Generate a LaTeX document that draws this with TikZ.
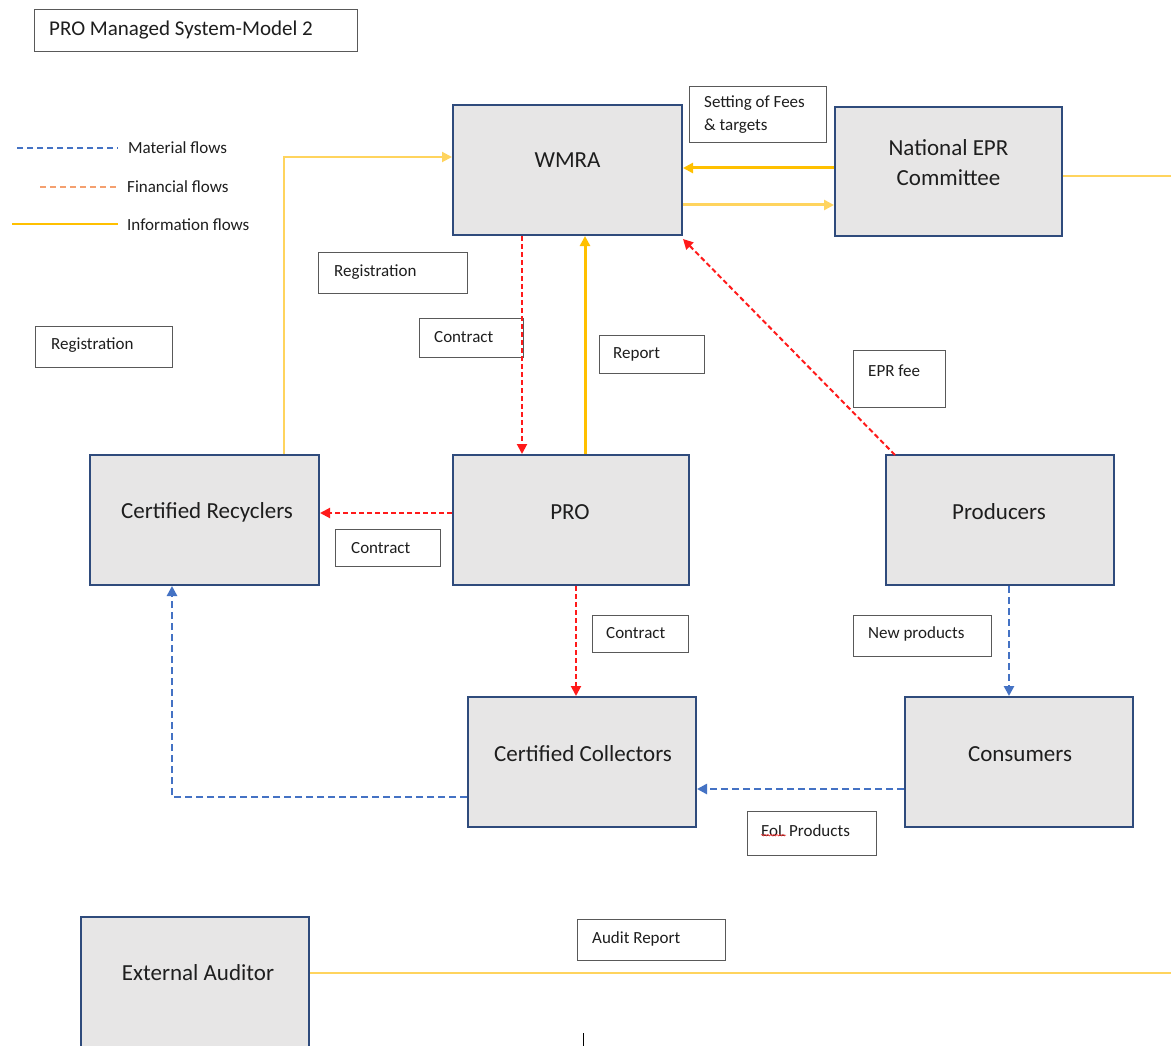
\documentclass[tikz,border=0pt]{standalone}
\usepackage{fontspec}
\setmainfont{Carlito}
\usetikzlibrary{arrows.meta,decorations.pathmorphing}
\definecolor{boxgray}{HTML}{E7E6E6}
\definecolor{boxblue}{HTML}{2F4B7C}
\definecolor{gold}{HTML}{FFC000}
\definecolor{lgold}{HTML}{FFD45E}
\definecolor{matblue}{HTML}{4472C4}
\definecolor{finred}{HTML}{FF1A1A}
\definecolor{legorange}{HTML}{F4A070}
\definecolor{txt}{HTML}{1E1E1E}
\begin{document}
\begin{tikzpicture}[x=1pt,y=-1pt,
  box/.style={draw=boxblue, line width=2pt, fill=boxgray, inner sep=0pt},
  lbl/.style={draw=black!65, line width=0.8pt, fill=white, inner sep=0pt},
  bigtxt/.style={font=\fontsize{23}{30}\selectfont, text=txt, align=center, inner sep=0pt},
  smalltxt/.style={font=\fontsize{17}{23}\selectfont, text=txt, anchor=west, align=left, inner sep=0pt},
  tip/.style={-{Triangle[length=10pt,width=10pt]}},
  info/.style={draw=gold, line width=3pt, tip},
  infolight/.style={draw=lgold, line width=2pt},
  fin/.style={draw=finred, line width=2pt, dash pattern=on 5pt off 3pt, tip},
  mat/.style={draw=matblue, line width=2.5pt, dash pattern=on 7pt off 4pt, tip}
]
\clip (0,0) rectangle (1171,1046);
\fill[white] (0,0) rectangle (1171,1046);

% title
\node[lbl, minimum width=323, minimum height=42] (titlebox) at (195.5,30) {};
\node[smalltxt, font=\fontsize{21}{24}\selectfont] (title) at (49,30) {PRO Managed System-Model 2};

% legend
\coordinate (lm1) at (17,148); \coordinate (lm2) at (118,148);
\coordinate (lf1) at (40,187); \coordinate (lf2) at (116,187);
\coordinate (li1) at (12,224); \coordinate (li2) at (118,224);
\draw[draw=matblue, line width=1.2pt, dash pattern=on 6pt off 4pt] (lm1) -- (lm2);
\draw[draw=legorange, line width=1.2pt, dash pattern=on 6pt off 4pt] (lf1) -- (lf2);
\draw[draw=gold, line width=2.5pt] (li1) -- (li2);
\node[smalltxt] (legm) at (128,148) {Material flows};
\node[smalltxt] (legf) at (127,187) {Financial flows};
\node[smalltxt] (legi) at (127,225) {Information flows};

% main boxes
\node[box, minimum width=229, minimum height=130] (wmra) at (567.5,170) {};
\node[bigtxt] (wmra-t) at (567.5,160) {WMRA};
\node[box, minimum width=227, minimum height=129] (epr) at (948.5,171.5) {};
\node[bigtxt] (epr-t) at (948.5,163) {National EPR\\Committee};
\node[box, minimum width=229, minimum height=130] (rec) at (204.5,520) {};
\node[bigtxt] (rec-t) at (207,512) {Certified Recyclers};
\node[box, minimum width=236, minimum height=130] (pro) at (571,520) {};
\node[bigtxt] (pro-t) at (570,512) {PRO};
\node[box, minimum width=228, minimum height=130] (prod) at (1000,520) {};
\node[bigtxt] (prod-t) at (999,512) {Producers};
\node[box, minimum width=228, minimum height=130] (coll) at (582,762) {};
\node[bigtxt] (coll-t) at (583,754) {Certified Collectors};
\node[box, minimum width=228, minimum height=130] (cons) at (1019,762) {};
\node[bigtxt] (cons-t) at (1020,754) {Consumers};
\node[box, minimum width=228, minimum height=160] (aud) at (195,997) {};
\node[bigtxt] (aud-t) at (198,973) {External Auditor};

% label boxes
\node[lbl, minimum width=137, minimum height=56] (fees) at (757.5,114) {};
\node[smalltxt] (fees-t) at (704,114.5) {Setting of Fees\\\& targets};
\node[lbl, minimum width=149, minimum height=41] (reg1) at (392.5,272.5) {};
\node[smalltxt] (reg1-t) at (334,272) {Registration};
\node[lbl, minimum width=137, minimum height=41] (reg2) at (103.5,346.5) {};
\node[smalltxt] (reg2-t) at (51,345) {Registration};
\node[lbl, minimum width=104, minimum height=39] (con1) at (471,337.5) {};
\node[smalltxt] (con1-t) at (434,337) {Contract};
\node[lbl, minimum width=105, minimum height=38] (rep) at (651.5,354) {};
\node[smalltxt] (rep-t) at (613,354) {Report};
\node[lbl, minimum width=92, minimum height=57] (fee) at (899,378.5) {};
\node[smalltxt] (fee-t) at (868,371) {EPR fee};
\node[lbl, minimum width=105, minimum height=37] (con2) at (387.5,547.5) {};
\node[smalltxt] (con2-t) at (351,548) {Contract};
\node[lbl, minimum width=96, minimum height=37] (con3) at (640,633.5) {};
\node[smalltxt] (con3-t) at (606,633) {Contract};
\node[lbl, minimum width=138, minimum height=41] (newp) at (922,635.5) {};
\node[smalltxt] (newp-t) at (868,634) {New products};
\node[lbl, minimum width=129, minimum height=44] (eol) at (811.5,833) {};
\node[smalltxt] (eol-t) at (761,831) {EoL Products};
\draw[red!80, line width=0.6pt, decorate, decoration={snake, amplitude=0.8pt, segment length=3pt}] ([yshift=2pt]eol-t.south west) -- ++(25,0);
\node[lbl, minimum width=148, minimum height=41] (audr) at (651,939.5) {};
\node[smalltxt] (audr-t) at (592,939) {Audit Report};

% connector helper coordinates
\coordinate (recUp) at (284,157);
\coordinate (x522) at (522,0);
\coordinate (x585) at (585,0);
\coordinate (x576) at (576,0);
\coordinate (x1009) at (1009,0);
\coordinate (x172) at (172,797);
\coordinate (y168) at (0,168);
\coordinate (y205) at (0,205);
\coordinate (y513) at (0,513);
\coordinate (y789) at (0,789);
\coordinate (prodTop) at (895,455);
\coordinate (wmraCorner) at (683,239);
\coordinate (eprR) at (1171,176);
\coordinate (audR) at (1171,973);
\coordinate (tick1) at (583,1033);
\coordinate (tick2) at (583,1046);

% information flows
\draw[draw=lgold, line width=2pt, tip] (rec.north -| recUp) -- (recUp) -- (wmra.west |- recUp);
\draw[info] (epr.west |- y168) -- (wmra.east |- y168);
\draw[draw=lgold, line width=3pt, tip] (wmra.east |- y205) -- (epr.west |- y205);
\draw[infolight] (epr.east |- eprR) -- (eprR);
\draw[info] (pro.north -| x585) -- (wmra.south -| x585);
\draw[infolight] (aud.east |- audR) -- (audR);

% financial flows
\draw[fin] (wmra.south -| x522) -- (pro.north -| x522);
\draw[fin] (prodTop) -- (wmraCorner);
\draw[fin] (pro.west |- y513) -- (rec.east |- y513);
\draw[fin] (pro.south -| x576) -- (coll.north -| x576);

% material flows
\draw[mat] (prod.south -| x1009) -- (cons.north -| x1009);
\draw[mat] (cons.west |- y789) -- (coll.east |- y789);
\draw[mat] (coll.west |- x172) -- (x172) -- (rec.south -| x172);

% small tick at bottom
\draw[black, line width=1pt] (tick1) -- (tick2);
\end{tikzpicture}
\end{document}
